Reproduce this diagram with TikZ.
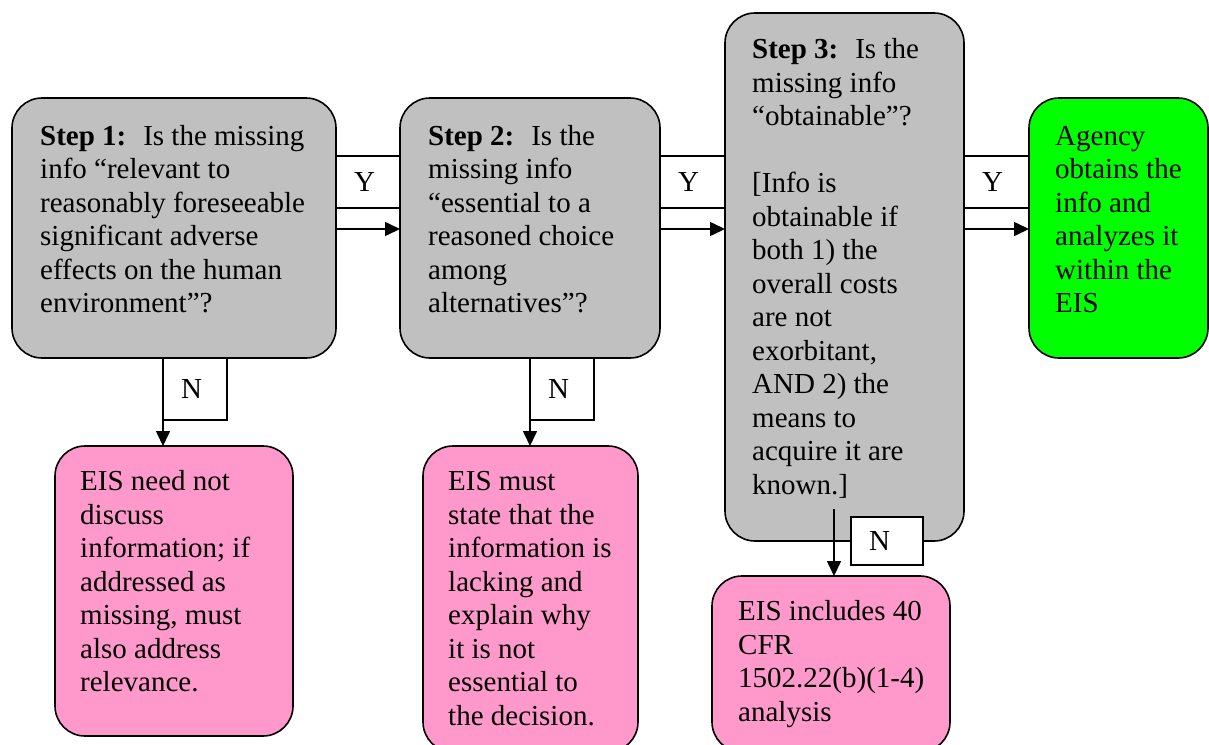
\documentclass[tikz,border=0pt]{standalone}
\usepackage{fontspec}
\setmainfont{Liberation Serif}
\usetikzlibrary{arrows.meta}
\definecolor{boxgray}{RGB}{192,192,192}
\definecolor{boxpink}{RGB}{255,153,204}
\definecolor{boxgreen}{RGB}{0,255,0}
\begin{document}
\begin{tikzpicture}[x=1pt,y=-1pt,
  box/.style={draw=black, line width=1.6pt, rounded corners=30pt, inner sep=0pt, outer sep=0pt, anchor=north west},
  txt/.style={font=\fontsize{29}{33.5}\selectfont, align=left, inner sep=0pt, anchor=north west},
  lbl/.style={draw=black, fill=white, line width=1.6pt, font=\fontsize{29}{33.5}\selectfont, align=left, inner xsep=18pt, inner ysep=0pt, outer sep=0pt},
  arr/.style={line width=1.6pt, -{Triangle[length=15pt,width=14pt]}}
]
\useasboundingbox (0,0) rectangle (1209,744);
\clip (0,0) rectangle (1209,744);

% main boxes
\node[box, fill=boxgray, minimum width=324pt, minimum height=260pt] (b1) at (12,98) {};
\node[box, fill=boxgray, minimum width=260pt, minimum height=260pt] (b2) at (400,98) {};
\node[box, fill=boxgray, minimum width=239pt, minimum height=528pt] (b3) at (725,13) {};
\node[box, fill=boxgreen, minimum width=179pt, minimum height=260pt] (b4) at (1029,98) {};
\node[box, fill=boxpink, minimum width=238pt, minimum height=290pt] (p1) at (55,446) {};
\node[box, fill=boxpink, minimum width=215pt, minimum height=306pt] (p2) at (423,446) {};
\node[box, fill=boxpink, minimum width=238pt, minimum height=176pt] (p3) at (712,576) {};

% texts
\node[txt] (t1) at (40,121.5) {\strut\textbf{Step 1:}\hspace{0.25em} Is the missing\\info “relevant to\\reasonably foreseeable\\significant adverse\\effects on the human\\environment”?};
\node[txt] (t2) at (428,121.5) {\strut\textbf{Step 2:}\hspace{0.25em} Is the\\missing info\\“essential to a\\reasoned choice\\among\\alternatives”?};
\node[txt] (t3) at (752,35) {\strut\textbf{Step 3:}\hspace{0.25em} Is the\\missing info\\“obtainable”?\\[33.5pt][Info is\\obtainable if\\both 1) the\\overall costs\\are not\\exorbitant,\\AND 2) the\\means to\\acquire it are\\known.]};
\node[txt] (t4) at (1055,121.5) {\strut Agency\\obtains the\\info and\\analyzes it\\within the\\EIS};
\node[txt] (t5) at (80,467) {\strut EIS need not\\discuss\\information; if\\addressed as\\missing, must\\also address\\relevance.};
\node[txt] (t6) at (448,467) {\strut EIS must\\state that the\\information is\\lacking and\\explain why\\it is not\\essential to\\the decision.};
\node[txt] (t7) at (738,597) {\strut EIS includes 40\\CFR\\1502.22(b)(1-4)\\analysis};

% Y / N label boxes
\node[lbl, text width=28pt, minimum height=52pt] (y1) at (368,182) {Y};
\node[lbl, text width=29pt, minimum height=52pt] (y2) at (692.5,182) {Y};
\node[lbl, text width=29pt, minimum height=52pt] (y3) at (996.5,182) {Y};
\node[lbl, text width=28pt, minimum height=62pt] (n1) at (195,389) {N};
\node[lbl, text width=28pt, minimum height=62pt] (n2) at (562,389) {N};
\node[lbl, text width=36pt, minimum height=48pt] (n3) at (887,541) {N};

% connectors
\coordinate (ya) at (336,229);
\coordinate (yb) at (660,229);
\coordinate (yc) at (964,229);
\draw[arr] (ya) -- (ya -| b2.west);
\draw[arr] (yb) -- (yb -| b3.west);
\draw[arr] (yc) -- (yc -| b4.west);
\coordinate (na) at (163,358);
\coordinate (nb) at (530,358);
\coordinate (nc) at (834,509);
\draw[arr] (na) -- (na |- p1.north);
\draw[arr] (nb) -- (nb |- p2.north);
\draw[arr] (nc) -- (nc |- p3.north);
\end{tikzpicture}
\end{document}
